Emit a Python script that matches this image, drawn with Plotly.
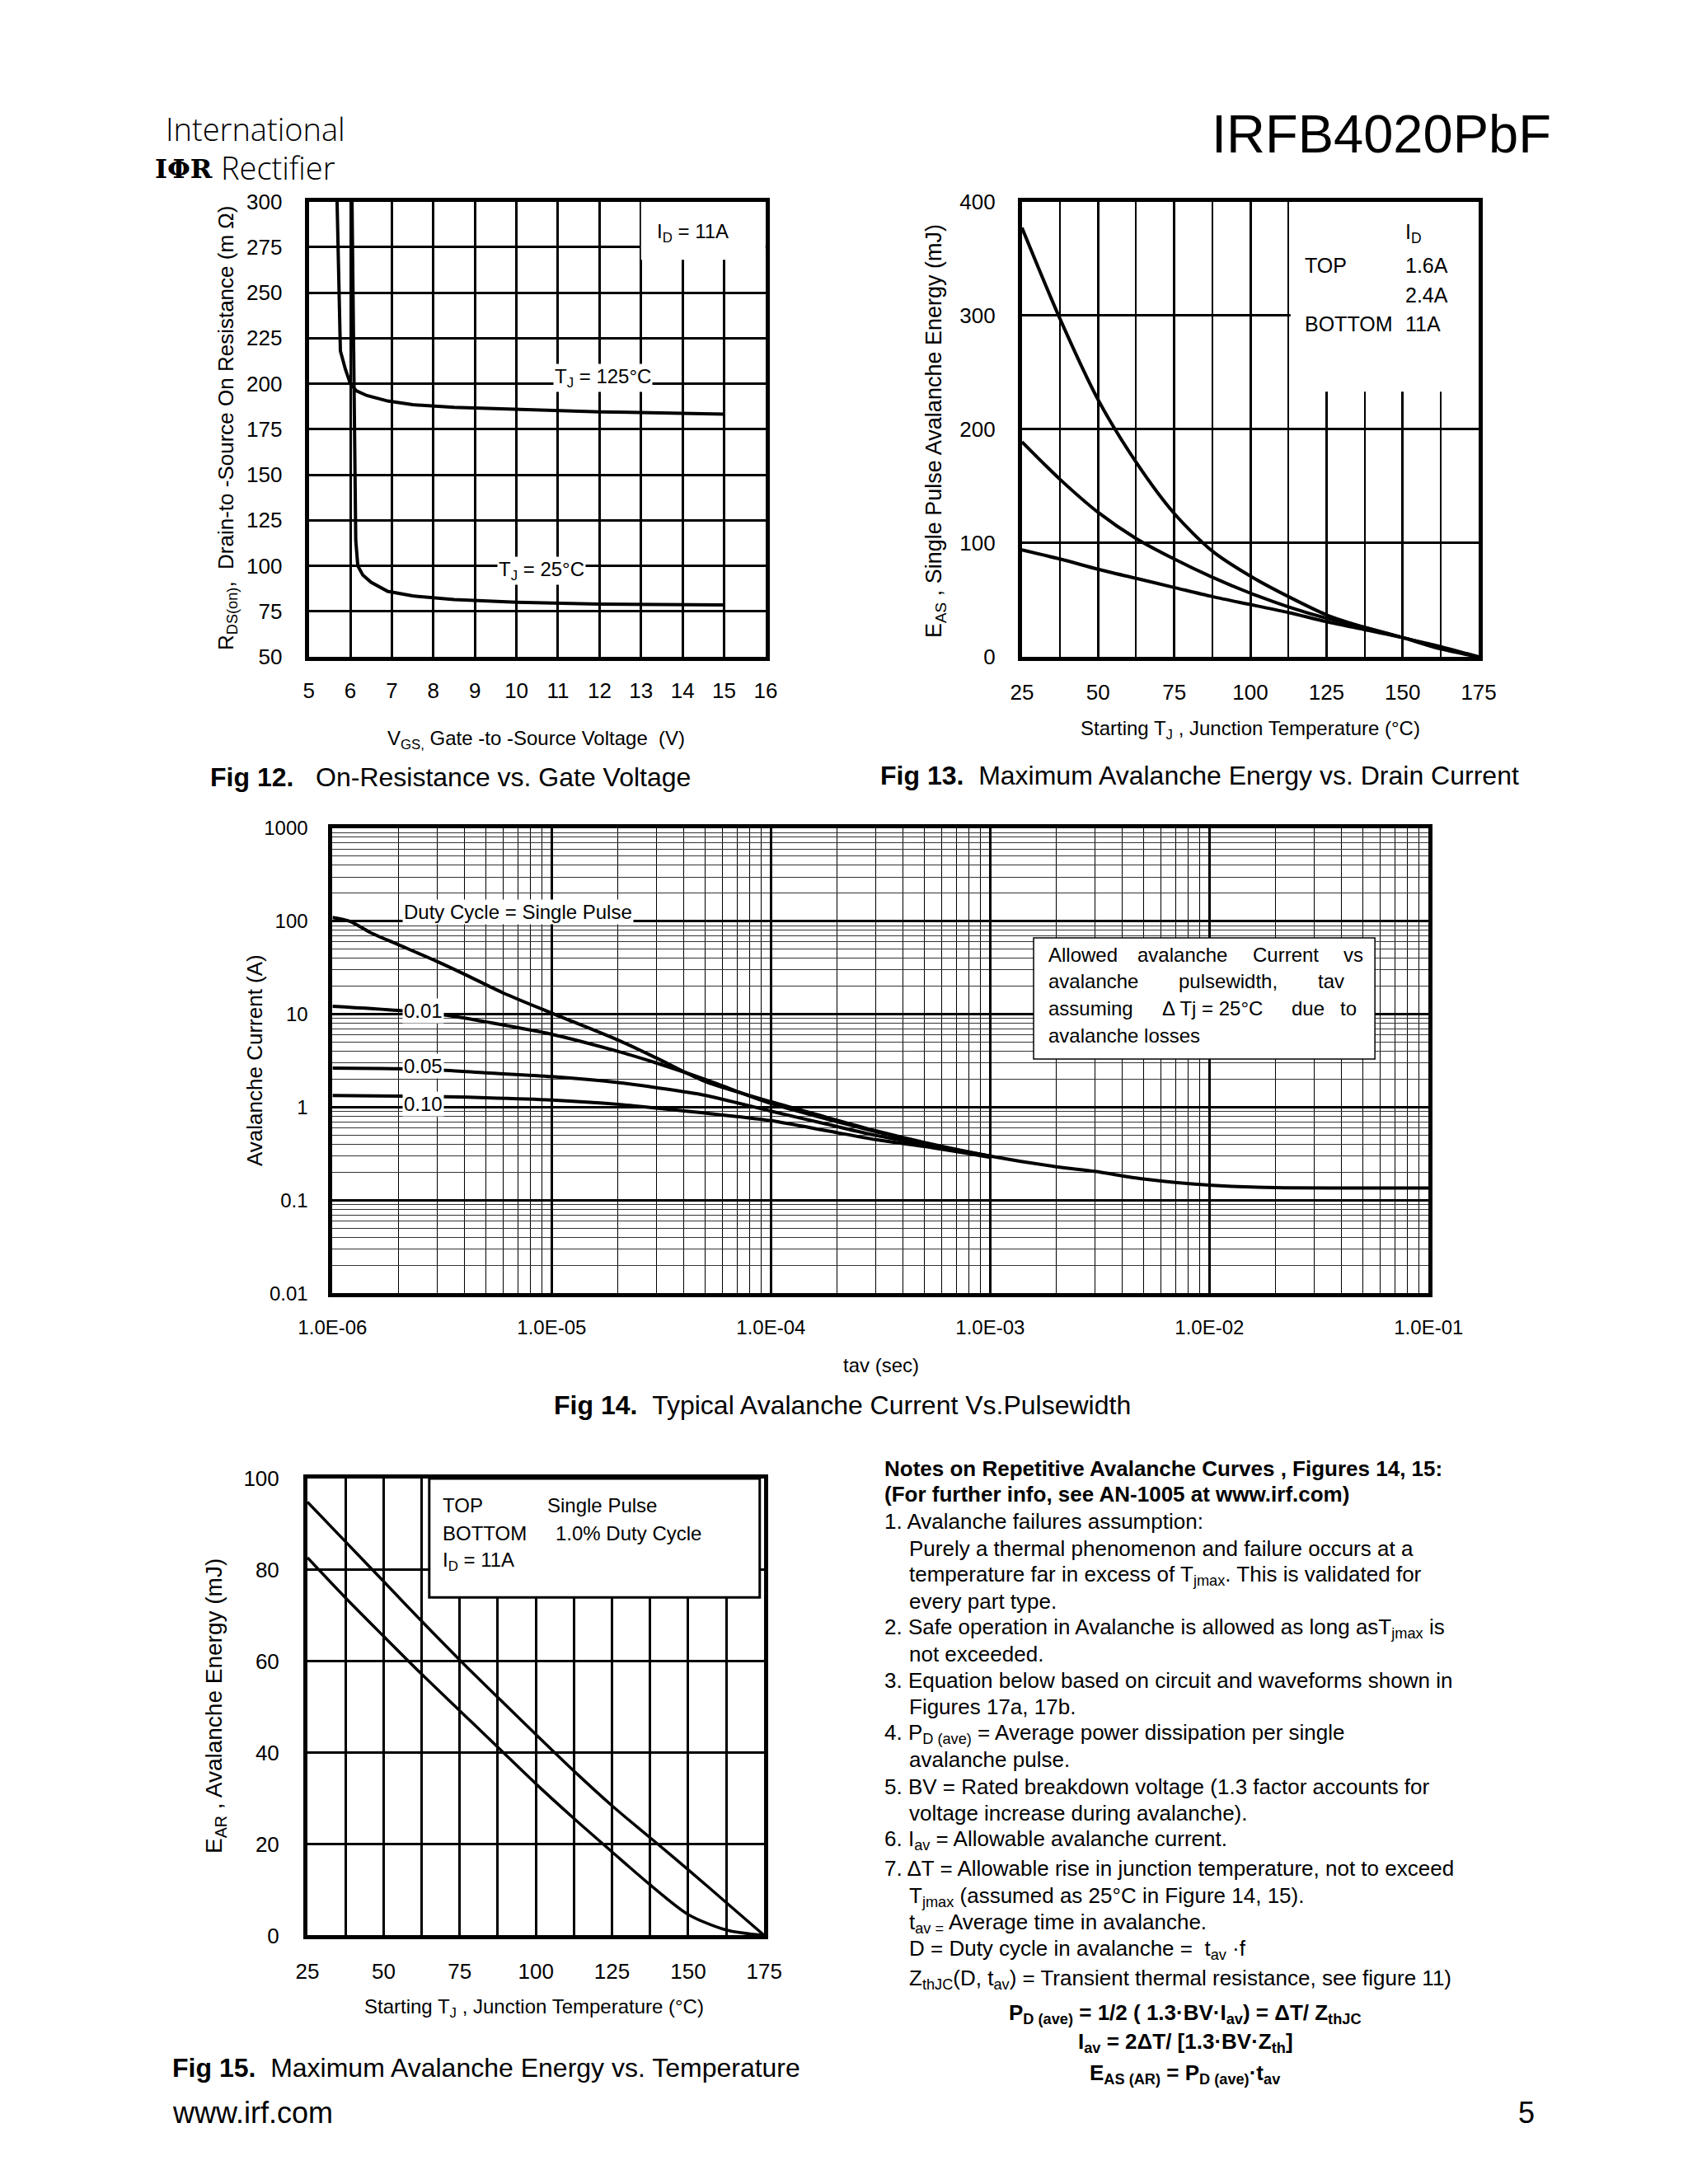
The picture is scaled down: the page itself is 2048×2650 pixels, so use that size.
import plotly.graph_objects as go

W, H = 2048, 2650
def px(x): return x / W
def py(y): return 1 - y / H

FONT = "Liberation Sans, Arial, Helvetica, sans-serif"
NBSP = "\u00a0"

# ---------------- data ----------------
# Fig 12  On-resistance vs gate voltage (ID = 11A)
vgs_tj25 = [6.04, 6.07, 6.10, 6.13, 6.18, 6.3, 6.5, 6.9, 7.5, 8.5, 10, 12, 15]
rds_tj25 = [300, 230, 160, 114, 100, 95, 91, 86, 83.5, 81.5, 80, 79, 78.5]
vgs_tj125 = [5.68, 5.72, 5.76, 5.88, 6.0, 6.15, 6.4, 6.9, 7.5, 8.5, 10, 12, 15]
rds_tj125 = [300, 255, 218, 208, 200, 196, 193.5, 190.5, 188.5, 187, 185.8, 184.6, 183.3]

# Fig 13  Max avalanche energy vs starting TJ
tj13 = [25, 37.5, 50, 62.5, 75, 87.5, 100, 112.5, 125, 137.5, 150, 162.5, 175]
eas_1p6a = [377, 297, 226, 171, 126, 93, 71, 53, 37, 26, 17, 9, 0]
eas_2p4a = [189, 156, 127, 104, 86, 70, 56, 44, 34, 26, 17, 7, 0]
eas_11a = [94, 86, 77, 69, 61, 53, 46, 39, 31, 24, 17, 8, 0]

# Fig 14  Avalanche current vs pulsewidth
tav_sp = [1e-6, 1.2e-6, 1.5e-6, 2e-6, 3e-6, 4e-6, 6e-6, 1e-5, 2e-5, 3e-5, 5e-5, 1e-4,
          1.8e-4, 3e-4, 5e-4, 1e-3, 2e-3, 3e-3, 5e-3, 1e-2, 2e-2, 5e-2, 1e-1]
iav_sp = [110, 100, 75, 56, 37, 27, 17, 10.3, 5.3, 3.4, 1.9, 1.15,
          0.78, 0.56, 0.42, 0.30, 0.23, 0.205, 0.17, 0.146, 0.137, 0.136, 0.136]
tav_d = [1e-6, 2e-6, 3.3e-6, 5e-6, 1e-5, 2e-5, 3e-5, 5e-5, 1e-4, 1.8e-4, 3e-4, 5e-4, 1e-3]
iav_d001 = [12.2, 11.0, 9.8, 8.3, 6.1, 4.0, 3.0, 2.0, 1.1, 0.75, 0.55, 0.41, 0.30]
iav_d005 = [2.64, 2.6, 2.5, 2.35, 2.14, 1.85, 1.63, 1.35, 0.91, 0.66, 0.50, 0.40, 0.295]
iav_d010 = [1.34, 1.32, 1.30, 1.27, 1.20, 1.08, 0.98, 0.87, 0.72, 0.56, 0.45, 0.38, 0.29]
tav_ticks = [1e-6, 1e-5, 1e-4, 1e-3, 1e-2, 1e-1]
tav_ticktext = ["1.0E-06", "1.0E-05", "1.0E-04", "1.0E-03", "1.0E-02", "1.0E-01"]
iav_ticks = [0.01, 0.1, 1, 10, 100, 1000]
iav_ticktext = ["0.01", "0.1", "1", "10", "100", "1000"]

# Fig 15  Avalanche energy vs temperature
tj15 = [25, 37.5, 50, 62.5, 75, 87.5, 100, 112.5, 125, 137.5, 150, 162.5, 175]
ear_single = [94.9, 86.2, 77.5, 68.8, 60.3, 52.1, 44.0, 36.0, 28.4, 21.4, 14.4, 7.2, 0]
ear_duty = [82.7, 73.9, 65.5, 57.2, 49.2, 41.2, 33.2, 25.6, 18.3, 11.1, 4.6, 1.2, 0]

# ---------------- figure ----------------
fig = go.Figure()

def line(x, y, xa, ya, width=4, shape="linear"):
    fig.add_trace(go.Scatter(x=x, y=y, xaxis=xa, yaxis=ya, mode="lines",
                             line=dict(color="black", width=width, shape=shape, smoothing=0.8),
                             showlegend=False, hoverinfo="skip"))

line(vgs_tj125, rds_tj125, "x", "y")
line(vgs_tj25, rds_tj25, "x", "y")
line(tj13, eas_1p6a, "x2", "y2", shape="spline")
line(tj13, eas_2p4a, "x2", "y2", shape="spline")
line(tj13, eas_11a, "x2", "y2", shape="spline")
line(tav_sp, iav_sp, "x3", "y3", shape="spline")
line(tav_d, iav_d001, "x3", "y3", shape="spline")
line(tav_d, iav_d005, "x3", "y3", shape="spline")
line(tav_d, iav_d010, "x3", "y3", shape="spline")
line(tj15, ear_single, "x4", "y4", width=3.5, shape="spline")
line(tj15, ear_duty, "x4", "y4", width=3.5, shape="spline")

def ax(domain, anchor, rng, size=26, standoff=16, **kw):
    d = dict(domain=domain, anchor=anchor, range=rng, showline=True, mirror=True,
             linecolor="black", linewidth=5, showgrid=True, gridcolor="black", gridwidth=3,
             zeroline=False, ticks="", ticklabelstandoff=standoff, automargin=False,
             tickfont=dict(family=FONT, size=size, color="black"), fixedrange=True)
    d.update(kw)
    return d

# domains in pixels
d12x = [px(366.7), px(920.9)]; d12y = [py(789.1), py(236.6)]
d13x = [px(1231.9), px(1786.1)]; d13y = d12y
d14x = [px(395.4), px(1725.3)]; d14y = [py(1561.4), py(997.0)]
d15x = [px(365.0), px(919.3)]; d15y = [py(2340.4), py(1786.1)]

minor_log_x = [k * 10.0 ** e for e in range(-6, -1) for k in range(2, 10)]
minor_log_y = [k * 10.0 ** e for e in range(-2, 3) for k in range(2, 10)]

fig.update_layout(
    width=W, height=H, autosize=False,
    margin=dict(l=0, r=0, t=0, b=0, pad=0, autoexpand=False),
    paper_bgcolor="white", plot_bgcolor="white", showlegend=False,
    font=dict(family=FONT, color="black"),
    xaxis=ax(d12x, "y", [5, 16], tick0=5, dtick=1, standoff=14),
    yaxis=ax(d12y, "x", [50, 300], tick0=50, dtick=25, standoff=22),
    xaxis2=ax(d13x, "y2", [25, 175], tick0=25, dtick=25, standoff=16,
              minor=dict(tick0=25, dtick=12.5, showgrid=True, gridcolor="black", gridwidth=1.5)),
    yaxis2=ax(d13y, "x2", [0, 400], tick0=0, dtick=100, standoff=22),
    xaxis3=ax(d14x, "y3", [-6, -1], type="log", tickmode="array", tickvals=tav_ticks,
              ticktext=tav_ticktext, size=24, standoff=16,
              minor=dict(tickmode="array", tickvals=minor_log_x, showgrid=True,
                         gridcolor="black", gridwidth=1.3)),
    yaxis3=ax(d14y, "x3", [-2, 3], type="log", tickmode="array", tickvals=iav_ticks,
              ticktext=iav_ticktext, size=24, standoff=20,
              minor=dict(tickmode="array", tickvals=minor_log_y, showgrid=True,
                         gridcolor="#333333", gridwidth=1.1)),
    xaxis4=ax(d15x, "y4", [25, 175], tick0=25, dtick=25, standoff=16, gridwidth=2.5,
              minor=dict(tick0=25, dtick=12.5, showgrid=True, gridcolor="black", gridwidth=2.5)),
    yaxis4=ax(d15y, "x4", [0, 100], tick0=0, dtick=20, standoff=24, gridwidth=2.5),
)

# white / bordered boxes
shapes = [
    dict(type="rect", xref="x", yref="y", x0=13.0, x1=16, y0=268, y1=300,
         fillcolor="white", line=dict(width=0), layer="between"),
    dict(type="rect", xref="x2", yref="y2", x0=113.2, x1=175, y0=233, y1=400,
         fillcolor="white", line=dict(width=0), layer="between"),
    dict(type="rect", xref="x3", yref="y3", x0=1.578e-3, x1=0.0569, y0=3.31, y1=66.4,
         fillcolor="white", line=dict(width=1.5, color="black"), layer="between"),
    dict(type="rect", xref="x4", yref="y4", x0=65.0, x1=173.5, y0=74.0, y1=100,
         fillcolor="white", line=dict(width=3, color="black"), layer="between"),
]
fig.update_layout(shapes=shapes)

ann = []
def T(x, y, s, size=25, xa="left", ya="middle", angle=0, bg=None, xref="paper", yref="paper", family=FONT, weight=None):
    if xref == "paper":
        x = px(x)
    if yref == "paper":
        y = py(y)
    f = dict(family=family, size=size, color="black")
    if weight is not None:
        f["weight"] = weight
    a = dict(x=x, y=y, xref=xref, yref=yref, text=s, showarrow=False, xanchor=xa, yanchor=ya,
             textangle=angle, font=f)
    if bg:
        a["bgcolor"] = bg
        a["borderpad"] = 1
    ann.append(a)

# header
T(191, 148, "International", size=38, family="Open Sans, Liberation Sans, sans-serif", weight=300)
T(252, 197, "<b>IΦR</b>", size=32, xa="right", family="DejaVu Serif, Liberation Serif, serif")
T(258, 195, "Rectifier", size=38, family="Open Sans, Liberation Sans, sans-serif", weight=300)
T(1876, 155, "IRFB4020PbF", size=65, xa="right")

# Fig 12 texts
T(14.25, 283, "I<sub>D</sub> = 11A", size=24, xa="center", xref="x", yref="y")
T(12.08, 203, "T<sub>J</sub> = 125°C", size=24, xa="center", xref="x", yref="y", bg="white")
T(10.6, 97.5, "T<sub>J</sub> = 25°C", size=24, xa="center", xref="x", yref="y", bg="white")
T(642, 890, "V<sub>GS,</sub> Gate -to -Source Voltage " + NBSP + "(V)", size=24, xa="center")
T(267, 512, "R<sub>DS(on)</sub>, " + NBSP + "Drain-to -Source On Resistance (m Ω)", size=26, xa="center", angle=-90)
T(245, 935, "<b>Fig 12.</b>" + NBSP * 3 + "On-Resistance vs. Gate Voltage", size=32)

# Fig 13 texts
T(150.3, 372, "I<sub>D</sub>", size=25, xref="x2", yref="y2")
T(117.4, 344, "TOP", size=25, xref="x2", yref="y2")
T(150.3, 344, "1.6A", size=25, xref="x2", yref="y2")
T(150.3, 318, "2.4A", size=25, xref="x2", yref="y2")
T(117.4, 292.5, "BOTTOM", size=25, xref="x2", yref="y2")
T(150.3, 292.5, "11A", size=25, xref="x2", yref="y2")
T(1509, 877, "Starting T<sub>J</sub> , Junction Temperature (°C)", size=24, xa="center")
T(1127, 515, "E<sub>AS</sub> , Single Pulse Avalanche Energy (mJ)", size=27, xa="center", angle=-90)
T(1058, 933, "<b>Fig 13.</b>" + NBSP * 2 + "Maximum Avalanche Energy vs. Drain Current", size=32)

# Fig 14 texts
T(-5.155, 2.10, "Duty Cycle = Single Pulse", size=24, xa="center", xref="x3", yref="y3", bg="white")
T(-5.587, 1.04, "0.01", size=24, xa="center", xref="x3", yref="y3", bg="white")
T(-5.587, 0.44, "0.05", size=24, xa="center", xref="x3", yref="y3", bg="white")
T(-5.587, 0.04, "0.10", size=24, xa="center", xref="x3", yref="y3", bg="white")
words = [
    (1262, 1150, "Allowed"), (1370, 1150, "avalanche"), (1510, 1150, "Current"), (1620, 1150, "vs"),
    (1262, 1183, "avalanche"), (1420, 1183, "pulsewidth,"), (1589, 1183, "tav"),
    (1262, 1216, "assuming"), (1400, 1216, "Δ Tj = 25°C"), (1557, 1216, "due"), (1616, 1216, "to"),
    (1262, 1248, "avalanche losses"),
]
for wx, wy, w in words:
    T(wx, wy, w, size=24)
T(1061, 1648, "tav (sec)", size=24, xa="center")
T(301, 1279, "Avalanche Current (A)", size=26, xa="center", angle=-90)
T(662, 1697, "<b>Fig 14.</b>" + NBSP * 2 + "Typical Avalanche Current Vs.Pulsewidth", size=32)

# Fig 15 texts
T(527, 1818, "TOP", size=24)
T(654, 1818, "Single Pulse", size=24)
T(527, 1852, "BOTTOM", size=24)
T(664, 1852, "1.0% Duty Cycle", size=24)
T(527, 1886, "I<sub>D</sub> = 11A", size=24)
T(640, 2428, "Starting T<sub>J</sub> , Junction Temperature (°C)", size=24, xa="center")
T(253, 2062, "E<sub>AR</sub> , Avalanche Energy (mJ)", size=28, xa="center", angle=-90)
T(199, 2501, "<b>Fig 15.</b>" + NBSP * 2 + "Maximum Avalanche Energy vs. Temperature", size=32)

# Notes
notes = [
    (1063, 1774, "<b>Notes on Repetitive Avalanche Curves , Figures 14, 15:</b>"),
    (1063, 1805, "<b>(For further info, see AN-1005 at www.irf.com)</b>"),
    (1063, 1838, "1. Avalanche failures assumption:"),
    (1093, 1871, "Purely a thermal phenomenon and failure occurs at a"),
    (1093, 1903, "temperature far in excess of T<sub>jmax</sub>. This is validated for"),
    (1093, 1935, "every part type."),
    (1063, 1967, "2. Safe operation in Avalanche is allowed as long asT<sub>jmax</sub> is"),
    (1093, 1999, "not exceeded."),
    (1063, 2031, "3. Equation below based on circuit and waveforms shown in"),
    (1093, 2063, "Figures 17a, 17b."),
    (1063, 2095, "4. P<sub>D (ave)</sub> = Average power dissipation per single"),
    (1093, 2127, "avalanche pulse."),
    (1063, 2160, "5. BV = Rated breakdown voltage (1.3 factor accounts for"),
    (1093, 2192, "voltage increase during avalanche)."),
    (1063, 2224, "6. I<sub>av</sub> = Allowable avalanche current."),
    (1063, 2259, "7. ΔT = Allowable rise in junction temperature, not to exceed"),
    (1093, 2293, "T<sub>jmax</sub> (assumed as 25°C in Figure 14, 15)."),
    (1093, 2325, "t<sub>av =</sub> Average time in avalanche."),
    (1093, 2357, "D = Duty cycle in avalanche = " + NBSP + "t<sub>av</sub> ·f"),
    (1093, 2393, "Z<sub>thJC</sub>(D, t<sub>av</sub>) = Transient thermal resistance, see figure 11)"),
]
for nx, ny, s in notes:
    T(nx, ny, s, size=26)
T(1430, 2435, "<b>P<sub>D (ave)</sub> = 1/2 ( 1.3·BV·I<sub>av</sub>) = ΔT/ Z<sub>thJC</sub></b>", size=26, xa="center")
T(1430, 2470, "<b>I<sub>av</sub> = 2ΔT/ [1.3·BV·Z<sub>th</sub>]</b>", size=26, xa="center")
T(1430, 2508, "<b>E<sub>AS (AR)</sub> = P<sub>D (ave)</sub>·t<sub>av</sub></b>", size=26, xa="center")

# footer
T(199, 2555, "www.irf.com", size=36)
T(1856, 2555, "5", size=36, xa="right")

fig.update_layout(annotations=ann)
fig.write_html("out.html", config={"displayModeBar": False})
